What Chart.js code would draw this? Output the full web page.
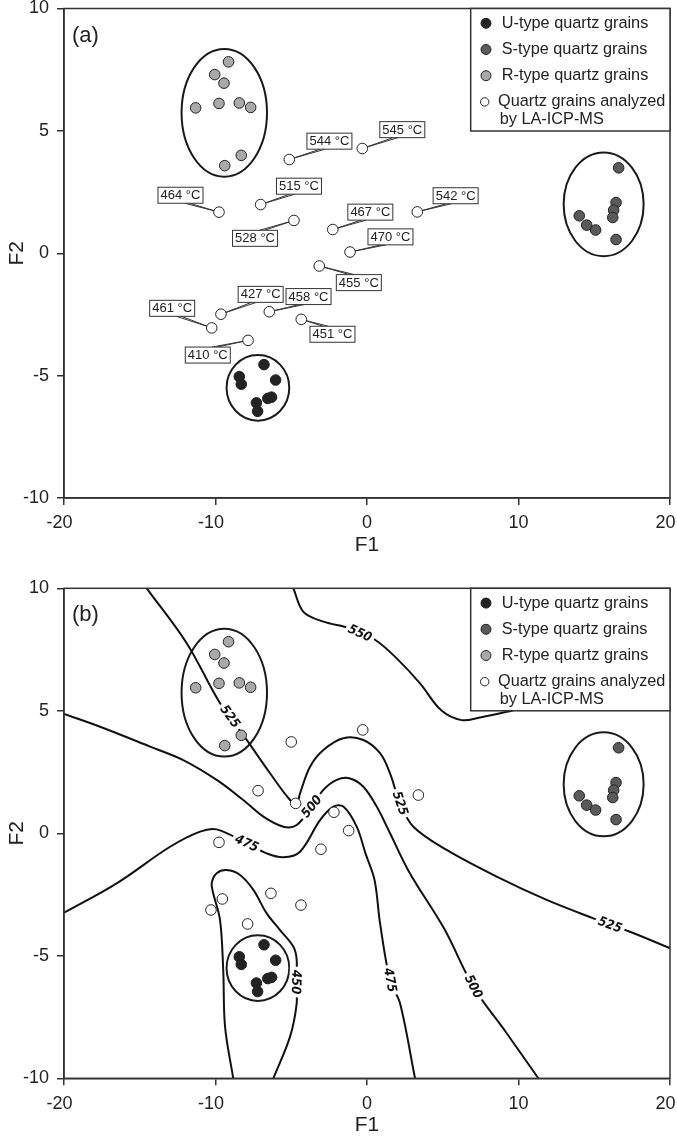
<html>
<head>
<script src="https://cdn.jsdelivr.net/npm/chart.js"></script>
<style>
  body { margin: 0; background: white; overflow: hidden; width: 677px; height: 1139px; position: relative; }
  .panel { position: absolute; left: 0; width: 700px; height: 572px; }
</style>
</head>
<body>
<div class="panel" style="top:-12px"><canvas id="chartA"></canvas></div>
<div class="panel" style="top:568px"><canvas id="chartB"></canvas></div>

<script>
// grain groups (F1, F2 discriminant scores)
const uTypeX = [-6.80, -8.43, -8.30, -6.03, -6.55, -6.30, -7.30, -7.22];
const uTypeY = [-4.55, -5.04, -5.35, -5.18, -5.93, -5.88, -6.11, -6.46];
const sTypeX = [16.61, 16.44, 16.28, 16.22, 14.01, 14.50, 15.09, 16.44];
const sTypeY = [3.49, 2.07, 1.76, 1.46, 1.53, 1.15, 0.95, 0.56];
const rTypeX = [-9.14, -10.05, -9.44, -11.31, -9.77, -8.43, -7.68, -8.30, -9.39];
const rTypeY = [7.82, 7.30, 6.95, 5.94, 6.12, 6.14, 5.96, 4.00, 3.58];

// grains analyzed by LA-ICP-MS, with Ti-in-quartz temperatures
const tempLabels = ['464 °C', '515 °C', '528 °C', '544 °C', '545 °C', '467 °C', '542 °C',
                    '470 °C', '455 °C', '461 °C', '427 °C', '458 °C', '451 °C', '410 °C'];
const openXa = [-9.77, -7.02, -4.82, -5.13, -0.31, -2.26, 3.32, -1.12, -3.15, -10.25, -9.64, -6.45, -4.34, -7.85];
const openYa = [1.68, 1.99, 1.34, 3.83, 4.28, 0.97, 1.69, 0.05, -0.52, -3.05, -2.49, -2.39, -2.70, -3.56];
const labelXa = [-12.31, -4.49, -7.39, -2.48, 2.33, 0.22, 5.85, 1.55, -0.54, -12.86, -7.02, -3.86, -2.28, -10.51];
const labelYa = [2.37, 2.74, 0.61, 4.58, 5.05, 1.68, 2.35, 0.67, -1.20, -2.25, -1.68, -1.77, -3.31, -4.16];
const openXb = [-9.77, -7.19, -4.71, -5.00, -0.28, -2.18, 3.39, -1.21, -3.04, -10.30, -9.55, -6.34, -4.36, -7.88];
const openYb = [-0.37, 1.74, 1.22, 3.73, 4.22, 0.86, 1.56, 0.11, -0.65, -3.13, -2.68, -2.45, -2.93, -3.70];

// group outlines: centre x, centre y, half width, half height (data units)
const groupEllipses = [[-9.42, 5.74, 2.82, 2.61], [15.62, 2.0, 2.64, 2.12], [-7.2, -5.5, 2.07, 1.34]];

// isotherms (°C) of panel b
const contour550 = [[-4.86,10.0],[-4.20,9.04],[-2.88,8.64],[-1.12,8.37],[0.53,7.90],[1.96,7.14],[3.50,6.12],
  [4.90,5.02],[6.25,4.62],[7.46,4.73],[9.22,4.96],[10.76,5.20]];
const contour525 = [[-14.54,10.0],[-11.90,7.76],[-9.70,5.31],[-7.94,3.81],[-6.40,2.45],[-5.08,1.36],[-4.64,1.22],
  [-4.42,1.63],[-3.76,2.72],[-2.88,3.40],[-1.56,3.88],[-0.24,3.81],[0.86,3.27],[1.52,2.45],[2.18,1.22],[3.06,0.27],
  [5.26,-0.68],[8.56,-1.77],[11.86,-2.72],[14.94,-3.47],[17.36,-4.02],[20.0,-4.69]];
const contour500 = [[-20,4.87],[-17.62,4.35],[-14.32,3.54],[-12.13,2.99],[-9.92,2.18],[-8.17,1.36],[-6.84,0.68],
  [-5.52,0.27],[-4.64,0.34],[-3.65,1.09],[-2.88,1.77],[-2.0,2.18],[-1.12,2.24],[-0.24,1.90],[0.64,1.09],[1.52,0.0],
  [2.80,-1.60],[5.10,-3.90],[7.02,-6.26],[9.22,-8.16],[11.31,-10.0]];
const contour475 = [[-20,-3.24],[-16.52,-2.04],[-13.0,-0.55],[-11.02,0.07],[-9.92,0.16],[-7.94,-0.41],[-6.62,-0.82],
  [-5.52,-0.98],[-4.42,-0.75],[-3.10,0.54],[-2.22,1.09],[-1.56,1.09],[-0.68,0.27],[-0.10,-0.82],[0.50,-1.91],
  [0.86,-3.67],[1.52,-5.99],[2.18,-6.94],[3.17,-10.0]];
const contour450 = [[-8.83,-10],[-9.37,-7.89],[-9.49,-5.58],[-9.70,-3.54],[-10.15,-2.45],[-10.25,-2.04],[-9.92,-1.63],
  [-9.26,-1.50],[-8.38,-1.70],[-7.50,-2.31],[-6.62,-3.27],[-5.74,-3.95],[-4.86,-4.63],[-4.64,-5.17],[-4.69,-6.19],
  [-4.64,-6.94],[-5.08,-8.30],[-6.18,-10]];
const contourLevels = ['550', '525', '500', '475', '450'];
const contourLabels = [
  {text: '550', c: 0, x: -0.46, y: 8.16}, {text: '525', c: 1, x: -9.04, y: 4.76},
  {text: '525', c: 1, x: 2.18, y: 1.22}, {text: '525', c: 1, x: 16.04, y: -3.74},
  {text: '500', c: 2, x: -3.65, y: 1.09}, {text: '500', c: 2, x: 7.02, y: -6.26},
  {text: '475', c: 3, x: -7.94, y: -0.41}, {text: '475', c: 3, x: 1.52, y: -5.99},
  {text: '450', c: 4, x: -4.69, y: -6.07}
];

Chart.defaults.font.family = "'Liberation Sans', Arial, sans-serif";
Chart.defaults.color = '#222';

function pts(xs, ys) { return xs.map((x, i) => ({x: x, y: ys[i]})); }
function pairs(list) { return list.map(p => ({x: p[0], y: p[1]})); }

function grainSets(openX, openY) {
  return [
    {label: 'U-type quartz grains', data: pts(uTypeX, uTypeY), backgroundColor: '#232323', legendR: 5},
    {label: 'S-type quartz grains', data: pts(sTypeX, sTypeY), backgroundColor: '#5a5a5a', legendR: 5},
    {label: 'R-type quartz grains', data: pts(rTypeX, rTypeY), backgroundColor: '#a9a9a9', legendR: 5},
    {label: 'Quartz grains analyzed\nby LA-ICP-MS', data: pts(openX, openY), backgroundColor: '#ffffff', legendR: 4.2}
  ].map(d => Object.assign(d, {borderColor: '#222', borderWidth: 1, pointRadius: 5.3, order: 0, isGrain: true}));
}

function scalesFor(bottomHeight) {
  return {
    x: {
      type: 'linear', min: -20, max: 20,
      ticks: {
        stepSize: 10, color: '#222', font: {size: 18}, padding: 7.5,
        // minus signs hang to the left, last label kept inside the page
        callback: (v, i, ticks) => (v < 0 || i === ticks.length - 1) ? v + '\u2002' : String(v)
      },
      grid: {drawOnChartArea: false, drawTicks: true, tickLength: 7, color: '#333', lineWidth: 1.5},
      border: {color: '#333', width: 1.5},
      title: {display: true, text: 'F1', color: '#222', font: {size: 21}, padding: {top: 0, bottom: 2}},
      afterFit: s => { s.height = bottomHeight; }
    },
    y: {
      type: 'linear', min: -10, max: 10,
      ticks: {stepSize: 5, color: '#222', font: {size: 18}, padding: 8},
      grid: {drawOnChartArea: false, drawTicks: true, tickLength: 7, color: '#333', lineWidth: 1.5},
      border: {color: '#333', width: 1.5},
      title: {display: true, text: 'F2', color: '#222', font: {size: 21}, padding: {top: 5, bottom: 0}},
      afterFit: s => { s.width = 64; }
    }
  };
}

function toPx(chart, x, y) {
  return [chart.scales.x.getPixelForValue(x), chart.scales.y.getPixelForValue(y)];
}

// ellipses round the three grain groups
const ellipsePlugin = {
  id: 'ellipses',
  beforeDatasetsDraw(chart) {
    const ctx = chart.ctx;
    ctx.save();
    ctx.strokeStyle = '#1a1a1a';
    ctx.lineWidth = 2;
    groupEllipses.forEach(e => {
      const [cx, cy] = toPx(chart, e[0], e[1]);
      const rx = Math.abs(chart.scales.x.getPixelForValue(e[0] + e[2]) - cx);
      const ry = Math.abs(chart.scales.y.getPixelForValue(e[1] + e[3]) - cy);
      ctx.beginPath();
      ctx.ellipse(cx, cy, rx, ry, 0, 0, Math.PI * 2);
      ctx.stroke();
    });
    ctx.restore();
  }
};

// frame, panel letter and legend box
const framePlugin = {
  id: 'frame',
  afterDraw(chart, args, opts) {
    const a = chart.chartArea, ctx = chart.ctx;
    ctx.save();
    ctx.strokeStyle = '#333';
    ctx.lineWidth = 1.5;
    ctx.strokeRect(a.left, a.top, a.right - a.left, a.bottom - a.top);

    ctx.fillStyle = '#222';
    ctx.font = "22px 'Liberation Sans', Arial, sans-serif";
    ctx.textBaseline = 'middle';
    ctx.textAlign = 'left';
    ctx.fillText(opts.letter, a.left + 8, a.top + 27);

    const L = a.right - 199.3, T = a.top, W = a.right - L, H = 122.5;
    ctx.fillStyle = '#fff';
    ctx.fillRect(L, T, W, H);
    ctx.strokeRect(L, T, W, H);
    ctx.font = "16.3px 'Liberation Sans', Arial, sans-serif";
    const grains = chart.data.datasets.filter(d => d.isGrain);
    grains.forEach((d, i) => {
      const y = T + 14.8 + i * 26.2;
      const open = d.legendR < 5;
      ctx.beginPath();
      ctx.arc(L + (open ? 14 : 15.3), y, d.legendR, 0, Math.PI * 2);
      ctx.fillStyle = d.backgroundColor;
      ctx.fill();
      ctx.lineWidth = 1;
      ctx.strokeStyle = '#222';
      ctx.stroke();
      ctx.fillStyle = '#222';
      d.label.split('\n').forEach((line, j) => {
        ctx.fillText(line, L + (open ? (j ? 29 : 27.3) : 31), y + j * 18);
      });
    });
    ctx.restore();
  }
};

// temperature call-outs of panel a
const calloutPlugin = {
  id: 'callouts',
  beforeDatasetsDraw(chart) {
    const ctx = chart.ctx, w = 45, h = 16;
    ctx.save();
    tempLabels.forEach((t, i) => {
      const [bx, by] = toPx(chart, labelXa[i], labelYa[i]);
      const [qx, qy] = toPx(chart, openXa[i], openYa[i]);
      const sy = qy > by ? by + h / 2 : by - h / 2;
      const sx = bx + (qx > bx ? 1 : -1) * w * 0.15;
      ctx.strokeStyle = '#333';
      ctx.lineWidth = 1;
      ctx.beginPath();
      ctx.moveTo(sx - 2.5, sy);
      ctx.lineTo(qx, qy);
      ctx.lineTo(sx + 2.5, sy);
      ctx.stroke();
    });
    ctx.font = "13px 'Liberation Sans', Arial, sans-serif";
    ctx.textAlign = 'center';
    ctx.textBaseline = 'middle';
    tempLabels.forEach((t, i) => {
      const [bx, by] = toPx(chart, labelXa[i], labelYa[i]);
      ctx.fillStyle = '#fff';
      ctx.fillRect(bx - w / 2, by - h / 2, w, h);
      ctx.strokeStyle = '#333';
      ctx.lineWidth = 1;
      ctx.strokeRect(bx - w / 2, by - h / 2, w, h);
      ctx.fillStyle = '#222';
      ctx.fillText(t, bx, by + 0.5);
    });
    ctx.restore();
  }
};

// inline labels on the isotherms of panel b
const contourLabelPlugin = {
  id: 'contourLabels',
  afterDatasetDraw(chart, args) {
    const ds = chart.data.datasets[args.index];
    if (ds.contour === undefined) return;
    const ctx = chart.ctx;
    const els = args.meta.data;
    ctx.font = "italic bold 13px 'DejaVu Sans Condensed', 'DejaVu Sans', sans-serif";
    ctx.textAlign = 'center';
    ctx.textBaseline = 'middle';
    contourLabels.filter(l => l.c === ds.contour).forEach(l => {
      const [lx, ly] = toPx(chart, l.x, l.y);
      let best = 1e9, ang = 0;
      for (let k = 0; k < els.length - 1; k++) {
        const p = els[k], q = els[k + 1];
        const dx = q.x - p.x, dy = q.y - p.y;
        const t = Math.max(0, Math.min(1, ((lx - p.x) * dx + (ly - p.y) * dy) / (dx * dx + dy * dy)));
        const d = Math.hypot(p.x + t * dx - lx, p.y + t * dy - ly);
        if (d < best) { best = d; ang = Math.atan2(dy, dx); }
      }
      while (ang > Math.PI * 100 / 180) ang -= Math.PI;
      while (ang <= -Math.PI * 80 / 180) ang += Math.PI;
      const tw = ctx.measureText(l.text).width;
      ctx.save();
      ctx.translate(lx, ly);
      ctx.rotate(ang);
      ctx.fillStyle = '#fff';
      ctx.fillRect(-tw / 2 - 3, -6.5, tw + 6, 13);
      ctx.fillStyle = '#111';
      ctx.fillText(l.text, 0, 0.5);
      ctx.restore();
    });
  }
};

const baseOptions = {
  responsive: true,
  maintainAspectRatio: false,
  animation: false,
  events: [],
  plugins: {legend: {display: false}, tooltip: {enabled: false}}
};

new Chart(document.getElementById('chartA'), {
  type: 'scatter',
  data: {datasets: grainSets(openXa, openYa)},
  options: Object.assign({}, baseOptions, {
    layout: {padding: {top: 20.5, right: 30, left: 0, bottom: 0}},
    scales: scalesFor(62),
    plugins: Object.assign({}, baseOptions.plugins, {frame: {letter: '(a)'}})
  }),
  plugins: [ellipsePlugin, calloutPlugin, framePlugin]
});

const contourSets = [contour550, contour525, contour500, contour475, contour450].map((c, i) => ({
  label: contourLevels[i] + ' °C',
  data: pairs(c),
  contour: i,
  showLine: true,
  tension: 0.35,
  pointRadius: 0,
  borderColor: '#111',
  borderWidth: 2,
  order: 10
}));

new Chart(document.getElementById('chartB'), {
  type: 'scatter',
  data: {datasets: contourSets.concat(grainSets(openXb, openYb))},
  options: Object.assign({}, baseOptions, {
    layout: {padding: {top: 20.3, right: 30, left: 0, bottom: 0}},
    scales: scalesFor(61.7),
    plugins: Object.assign({}, baseOptions.plugins, {frame: {letter: '(b)'}})
  }),
  plugins: [ellipsePlugin, contourLabelPlugin, framePlugin]
});
</script>
</body>
</html>
